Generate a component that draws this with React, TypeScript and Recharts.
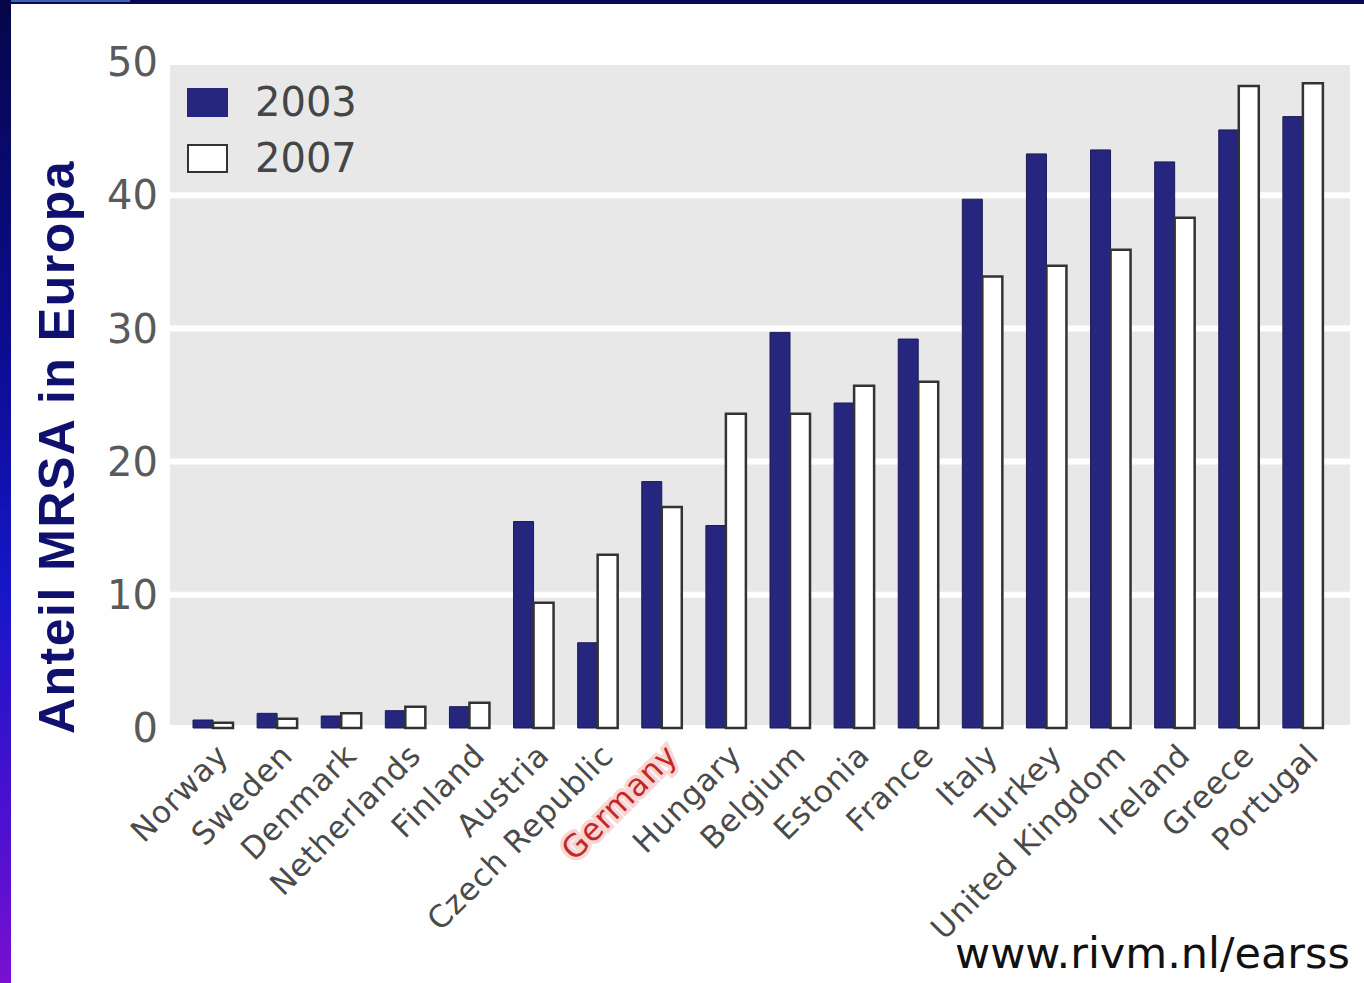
import React from 'react';
import { BarChart, Bar, XAxis, YAxis, CartesianGrid, Legend } from 'recharts';

const countries = [
  'Norway', 'Sweden', 'Denmark', 'Netherlands', 'Finland', 'Austria',
  'Czech Republic', 'Germany', 'Hungary', 'Belgium', 'Estonia', 'France',
  'Italy', 'Turkey', 'United Kingdom', 'Ireland', 'Greece', 'Portugal',
];
const values2003 = [0.6, 1.1, 0.9, 1.3, 1.6, 15.5, 6.4, 18.5, 15.2, 29.7, 24.4, 29.2, 39.7, 43.1, 43.4, 42.5, 44.9, 45.9];
const values2007 = [0.4, 0.7, 1.1, 1.6, 1.9, 9.4, 13.0, 16.6, 23.6, 23.6, 25.7, 26.0, 33.9, 34.7, 35.9, 38.3, 48.2, 48.4];
const yTicks = [0, 10, 20, 30, 40, 50];

const data = countries.map((name, i) => ({ name, y2003: values2003[i], y2007: values2007[i] }));

const NAVY = '#26267f';
const FONT = '"DejaVu Sans", Verdana, sans-serif';

const CountryTick = ({ x, y, payload }: any) => {
  const isGermany = payload.value === 'Germany';
  return (
    <g transform={`translate(${x + 2},${y + 6}) rotate(-45)`}>
      <text
        x={0}
        y={0}
        dy="0.7em"
        textAnchor="end"
        fontFamily={FONT}
        fontSize={31}
        letterSpacing={0.8}
        fill={isGermany ? '#c02a26' : '#4a4a4a'}
        stroke={isGermany ? '#f8d6d6' : 'none'}
        strokeWidth={isGermany ? 7 : 0}
        paintOrder="stroke"
      >
        {payload.value}
      </text>
    </g>
  );
};

const LegendBox = () => (
  <div style={{ fontFamily: FONT, fontSize: 40, color: '#454545', lineHeight: '56px' }}>
    <div style={{ display: 'flex', alignItems: 'center' }}>
      <span style={{ display: 'inline-block', width: 41, height: 29, background: NAVY, marginRight: 27 }} />
      2003
    </div>
    <div style={{ display: 'flex', alignItems: 'center' }}>
      <span style={{ display: 'inline-block', width: 37, height: 25, background: '#fff', border: '2px solid #333', marginRight: 27 }} />
      2007
    </div>
  </div>
);

export default function App() {
  return (
    <div style={{ position: 'absolute', left: 0, top: 0, width: 1364, height: 983, background: '#fff', overflow: 'hidden' }}>
      <BarChart
        width={1364}
        height={983}
        data={data}
        margin={{ top: 62, right: 14, left: 0, bottom: 0 }}
        barGap={0}
        barCategoryGap="36%"
      >
        <CartesianGrid vertical={false} fill="#e8e8e8" stroke="#ffffff" strokeWidth={6} />
        <XAxis
          dataKey="name"
          interval={0}
          tickLine={false}
          axisLine={false}
          padding={{ left: 11, right: 15 }}
          tick={<CountryTick />}
          height={255}
        />
        <YAxis
          domain={[0, 50]}
          ticks={yTicks}
          width={170}
          tickLine={false}
          axisLine={false}
          tickSize={0}
          tickMargin={12}
          tick={{ fontFamily: FONT, fontSize: 40, fill: '#5a5a5a' }}
        />
        <Legend
          layout="vertical"
          verticalAlign="middle"
          align="center"
          content={<LegendBox />}
          wrapperStyle={{ position: 'absolute', left: 187, top: 74, width: 200 }}
        />
        <Bar dataKey="y2003" name="2003" fill={NAVY} stroke="#1c1c55" strokeWidth={1} barSize={20} isAnimationActive={false} />
        <Bar dataKey="y2007" name="2007" fill="#ffffff" stroke="#333333" strokeWidth={2.5} barSize={20} isAnimationActive={false} />
      </BarChart>

      <div
        style={{
          position: 'absolute',
          left: 57,
          top: 447,
          transform: 'translate(-50%, -50%) rotate(-90deg)',
          whiteSpace: 'nowrap',
          fontFamily: '"Liberation Sans", Arial, sans-serif',
          fontWeight: 'bold',
          fontSize: 50,
          letterSpacing: 1.5,
          color: '#10106e',
        }}
      >
        Anteil MRSA in Europa
      </div>

      <div
        style={{
          position: 'absolute',
          left: 955,
          top: 928,
          whiteSpace: 'nowrap',
          fontFamily: FONT,
          fontSize: 43,
          color: '#111',
        }}
      >
        www.rivm.nl/earss
      </div>

      <div style={{ position: 'absolute', left: 0, top: 0, width: 1364, height: 4, background: '#0a0a52' }} />
      <div style={{ position: 'absolute', left: 0, top: 0, width: 130, height: 2, background: '#3a64b4' }} />
      <div
        style={{
          position: 'absolute',
          left: 0,
          top: 0,
          width: 11,
          height: 983,
          background: 'linear-gradient(to bottom, #06064a 0%, #0c0c90 35%, #1616c8 60%, #5010d0 85%, #7a10d0 100%)',
        }}
      />
    </div>
  );
}
